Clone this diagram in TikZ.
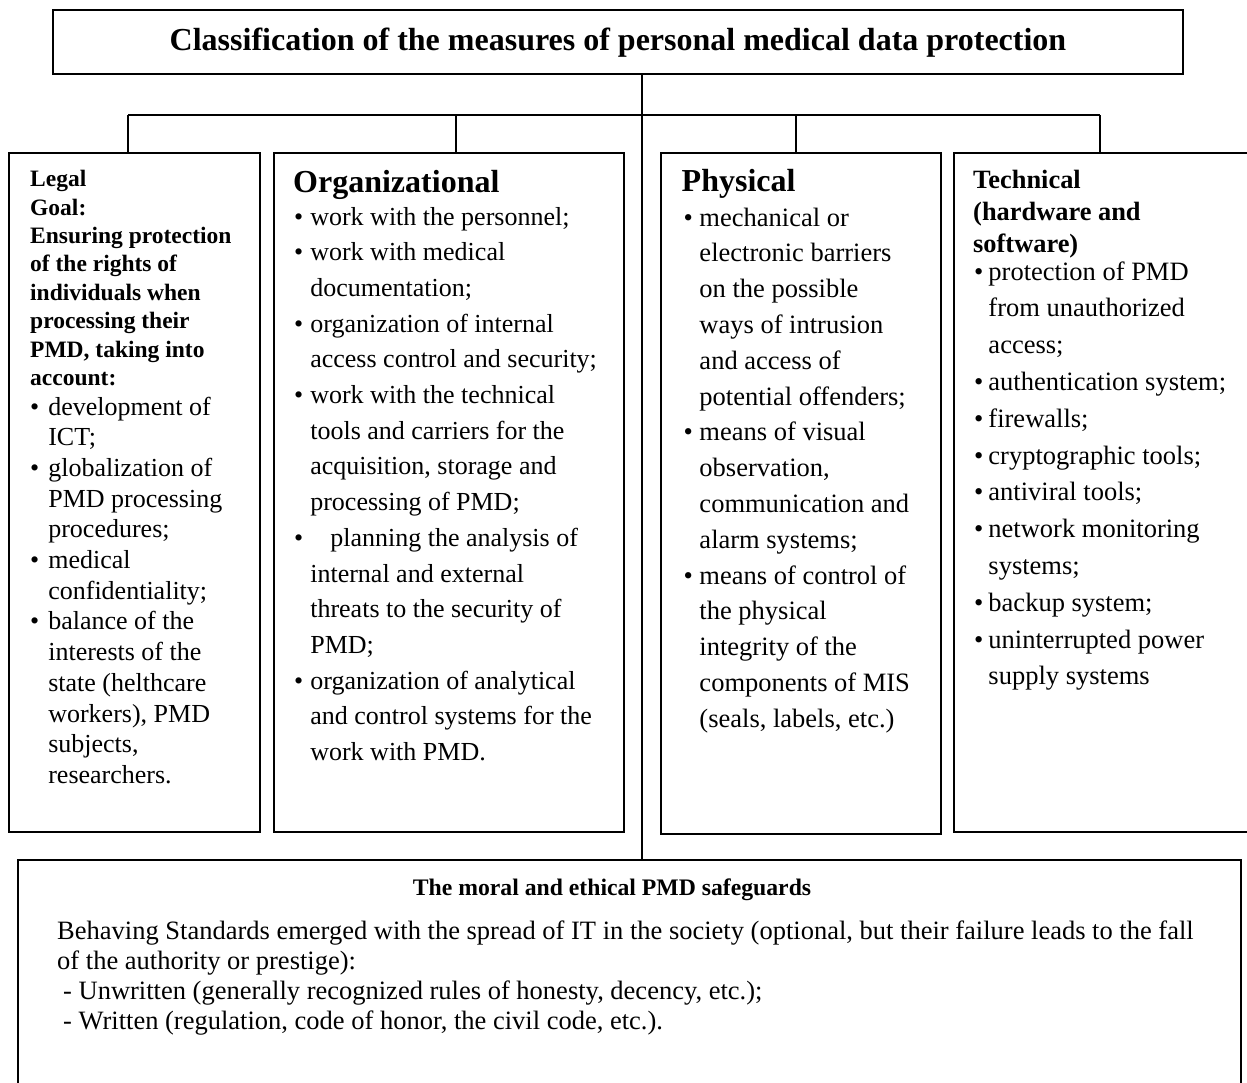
\documentclass[tikz,border=0pt]{standalone}
\usepackage{fontspec}
\setmainfont{Liberation Serif}
\usetikzlibrary{positioning}

% rows set flush left, first baseline used as node base
\newcommand{\rows}[1]{\begin{tabular}[t]{@{}l@{}}#1\end{tabular}}
% bullet list: gap between bullet and text, then the rows
\newcommand{\blist}[2]{\begin{tabular}[t]{@{}l@{\hspace{#1}}l@{}}#2\end{tabular}}

\begin{document}
\begin{tikzpicture}[
    x=1pt, y=-1pt, % y runs downwards, 1 unit = 1pt
    box/.style={rectangle, draw, line width=1.6pt, inner sep=0pt, anchor=north west},
    link/.style={line width=1.3pt},
    head/.style={inner sep=0pt, anchor=base west, font=\bfseries},
    list/.style={inner sep=0pt, anchor=base west}
]
\useasboundingbox (0,0) rectangle (1247,1082);
\clip (0,0) rectangle (1247,1082);

% Title
\node[box, minimum width=1130pt, minimum height=64pt] (title) at (52,9) {};
\node[inner sep=0pt, anchor=base, font=\bfseries\fontsize{32}{36}\selectfont] (titletext) at (618,50)
    {Classification of the measures of personal medical data protection};

% The four groups of measures
\node[box, minimum width=251pt, minimum height=679pt] (legal) at (8,152) {};
\node[box, minimum width=350pt, minimum height=679pt] (org) at (273,152) {};
\node[box, minimum width=280pt, minimum height=681pt] (phys) at (660,152) {};
\node[box, minimum width=310pt, minimum height=679pt] (tech) at (953,152) {};

% Moral and ethical safeguards
\node[box, minimum width=1223pt, minimum height=250pt] (moral) at (17,859) {};

% Legal
\node[head, font=\bfseries\fontsize{23.5}{28.4}\selectfont] (legalhead) at (30,186.7)
    {\rows{Legal\\ Goal:\\ Ensuring protection\\ of the rights of\\ individuals when\\
      processing their\\ PMD, taking into\\ account:}};
\node[list, font=\fontsize{26}{30.7}\selectfont] (legallist) at (30,415)
    {\blist{9pt}{\textbullet & development of\\ & ICT;\\
      \textbullet & globalization of\\ & PMD processing\\ & procedures;\\
      \textbullet & medical\\ & confidentiality;\\
      \textbullet & balance of the\\ & interests of the\\ & state (helthcare\\
       & workers), PMD\\ & subjects,\\ & researchers.}};

% Organizational
\node[head, font=\bfseries\fontsize{32}{36}\selectfont] (orghead) at (293,192) {Organizational};
\node[list, font=\fontsize{26}{35.7}\selectfont] (orglist) at (294,225)
    {\blist{7pt}{\textbullet & work with the personnel;\\
      \textbullet & work with medical\\ & documentation;\\
      \textbullet & organization of internal\\ & access control and security;\\
      \textbullet & work with the technical\\ & tools and carriers for the\\
       & acquisition, storage and\\ & processing of PMD;\\
      \textbullet & \hspace{20pt}planning the analysis of\\ & internal and external\\
       & threats to the security of\\ & PMD;\\
      \textbullet & organization of analytical\\ & and control systems for the\\
       & work with PMD.}};

% Physical
\node[head, font=\bfseries\fontsize{32}{36}\selectfont] (physhead) at (681.5,191.7) {Physical};
\node[list, font=\fontsize{26.5}{35.8}\selectfont] (physlist) at (683.5,226)
    {\blist{6.5pt}{\textbullet & mechanical or\\ & electronic barriers\\ & on the possible\\
       & ways of intrusion\\ & and access of\\ & potential offenders;\\
      \textbullet & means of visual\\ & observation,\\ & communication and\\ & alarm systems;\\
      \textbullet & means of control of\\ & the physical\\ & integrity of the\\
       & components of MIS\\ & (seals, labels, etc.)}};

% Technical
\node[head, font=\bfseries\fontsize{26.4}{32}\selectfont] (techhead) at (973,188)
    {\rows{Technical\\ (hardware and\\ software)}};
\node[list, font=\fontsize{26.5}{36.8}\selectfont] (techlist) at (974,280)
    {\blist{5pt}{\textbullet & protection of PMD\\ & from unauthorized\\ & access;\\
      \textbullet & authentication system;\\
      \textbullet & firewalls;\\
      \textbullet & cryptographic tools;\\
      \textbullet & antiviral tools;\\
      \textbullet & network monitoring\\ & systems;\\
      \textbullet & backup system;\\
      \textbullet & uninterrupted power\\ & supply systems}};

% Safeguards text
\node[inner sep=0pt, anchor=base, font=\bfseries\fontsize{23.7}{28}\selectfont] (moralhead) at (612,895)
    {The moral and ethical PMD safeguards};
\node[list, font=\fontsize{26.5}{30}\selectfont] (moraltext) at (57,939)
    {\rows{Behaving Standards emerged with the spread of IT in the society (optional, but their failure leads to the fall\\
      of the authority or prestige):\\
      \hspace{6pt}- Unwritten (generally recognized rules of honesty, decency, etc.);\\
      \hspace{6pt}- Written (regulation, code of honor, the civil code, etc.).}};

% Connections
\coordinate (hub) at (642,115);
\coordinate (barL) at (128,115);
\coordinate (barR) at (1100,115);
\coordinate (dropO) at (456,115);
\coordinate (dropP) at (796,115);

\draw[link] (title.south -| hub) -- (moral.north -| hub);
\draw[link] (barL) -- (barR);
\draw[link] (barL) -- (barL |- legal.north);
\draw[link] (dropO) -- (dropO |- org.north);
\draw[link] (dropP) -- (dropP |- phys.north);
\draw[link] (barR) -- (barR |- tech.north);

\end{tikzpicture}
\end{document}
